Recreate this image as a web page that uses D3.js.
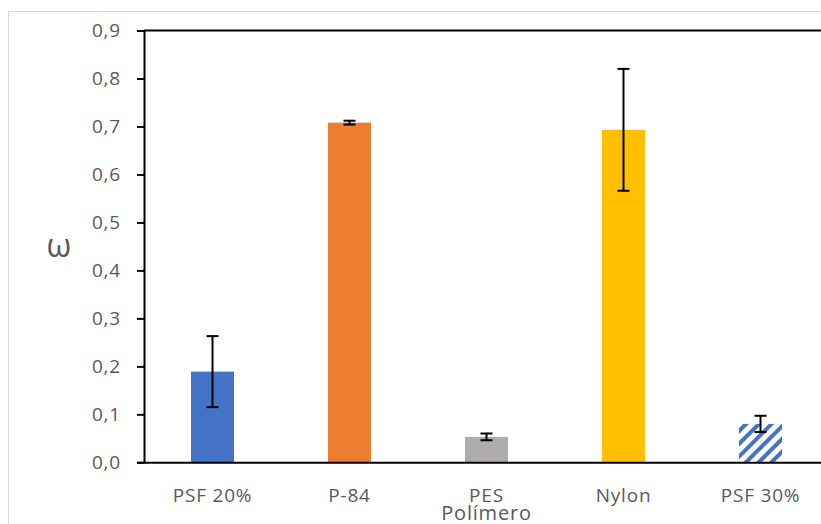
<!DOCTYPE html>
<html>
<head>
<meta charset="utf-8">
<script src="https://cdn.jsdelivr.net/npm/d3@7"></script>
<style>
  body { margin: 0; background: #fff; }
  svg { display: block; font-family: "Open Sans", sans-serif; }
</style>
</head>
<body>
<svg id="chart" width="821" height="524"></svg>
<script>
// polymer porosity data
const categories = ["PSF 20%", "P-84", "PES", "Nylon", "PSF 30%"];
const values = [0.189, 0.708, 0.053, 0.693, 0.080];
const errors = [0.074, 0.004, 0.007, 0.127, 0.017];
const yTicks = [0, 0.1, 0.2, 0.3, 0.4, 0.5, 0.6, 0.7, 0.8, 0.9];
const barColors = ["#4472C4", "#ED7D31", "#AFABAB", "#FFC000", "url(#hatch)"];

const svg = d3.select("#chart");
const margin = {top: 30.5, left: 144};
const plotW = 685, plotH = 431.8;
const textColor = "#595959";

const fmt = d3.formatLocale({decimal: ",", thousands: ".", grouping: [3], currency: ["", ""]}).format(".1f");

// chart border
svg.append("rect")
  .attr("x", 8.5).attr("y", 11.5)
  .attr("width", 830).attr("height", 530)
  .attr("fill", "none")
  .attr("stroke", "#D9D9D9");

// hatch for PSF 30%
svg.append("defs").append("pattern")
  .attr("id", "hatch")
  .attr("patternUnits", "userSpaceOnUse")
  .attr("width", 9).attr("height", 9)
  .attr("patternTransform", "rotate(45)")
  .append("rect")
  .attr("width", 4).attr("height", 9)
  .attr("fill", "#4472C4");

const x = d3.scaleBand()
  .domain(categories)
  .range([0, plotW])
  .paddingInner(0.686)
  .paddingOuter(0.343);

const y = d3.scaleLinear()
  .domain([0, 0.9])
  .range([plotH, 0]);

const color = d3.scaleOrdinal().domain(categories).range(barColors);

const g = svg.append("g")
  .attr("transform", `translate(${margin.left},${margin.top})`);

// bars
g.selectAll("rect.bar")
  .data(categories)
  .join("rect")
  .attr("class", "bar")
  .attr("x", d => x(d))
  .attr("width", x.bandwidth())
  .attr("y", (d, i) => y(values[i]))
  .attr("height", (d, i) => y(0) - y(values[i]))
  .attr("fill", d => color(d));

// error bars
const eb = g.selectAll("g.err")
  .data(categories)
  .join("g")
  .attr("class", "err")
  .attr("stroke", "#000")
  .attr("stroke-width", 2);

eb.append("line")
  .attr("x1", d => x(d) + x.bandwidth() / 2)
  .attr("x2", d => x(d) + x.bandwidth() / 2)
  .attr("y1", (d, i) => y(values[i] + errors[i]))
  .attr("y2", (d, i) => y(values[i] - errors[i]));

[1, -1].forEach(s => {
  eb.append("line")
    .attr("x1", d => x(d) + x.bandwidth() / 2 - 6)
    .attr("x2", d => x(d) + x.bandwidth() / 2 + 6)
    .attr("y1", (d, i) => y(values[i] + s * errors[i]))
    .attr("y2", (d, i) => y(values[i] + s * errors[i]));
});

// top border of plot area
g.append("line")
  .attr("x1", 0).attr("x2", plotW)
  .attr("y1", 0).attr("y2", 0)
  .attr("stroke", "#000").attr("stroke-width", 2);

// axes
const yAxis = g.append("g")
  .call(d3.axisLeft(y).tickValues(yTicks).tickFormat(fmt).tickSize(7).tickPadding(16));

const xAxis = g.append("g")
  .attr("transform", `translate(0,${plotH})`)
  .call(d3.axisBottom(x).tickSize(0).tickSizeOuter(0).tickPadding(26));

[yAxis, xAxis].forEach(a => {
  a.select(".domain").attr("stroke", "#000").attr("stroke-width", 2);
  a.selectAll(".tick line").attr("stroke", "#000").attr("stroke-width", 2);
  a.selectAll(".tick text")
    .attr("fill", textColor)
    .style("font-size", "19px")
    .style("letter-spacing", "0.8px")
    .style("font-family", "'Open Sans', sans-serif");
});

// axis titles
svg.append("text")
  .attr("x", margin.left + plotW / 2)
  .attr("y", 520)
  .attr("text-anchor", "middle")
  .attr("fill", textColor)
  .style("font-size", "20px")
  .style("letter-spacing", "0.8px")
  .text("Polímero");

svg.append("text")
  .attr("x", 59)
  .attr("y", 257)
  .attr("text-anchor", "middle")
  .attr("fill", textColor)
  .style("font-size", "32px")
  .text("ω");
</script>
</body>
</html>
